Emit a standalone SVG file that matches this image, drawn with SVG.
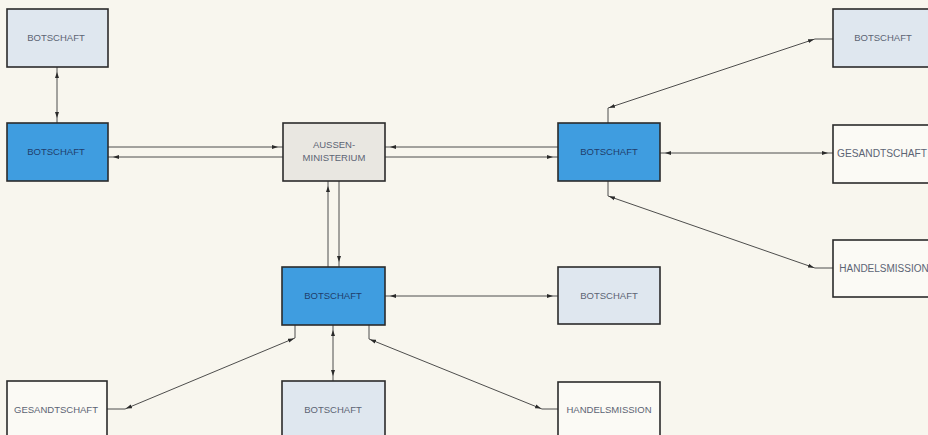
<svg xmlns="http://www.w3.org/2000/svg" width="928" height="435" viewBox="0 0 928 435">
<defs>
<marker id="a" markerUnits="userSpaceOnUse" markerWidth="14" markerHeight="6" refX="11" refY="2.5" orient="auto-start-reverse" viewBox="0 0 14 5"><path d="M0,0.5 L6,2.5 L0,4.5 z" fill="#2a2a2a"/></marker>
<marker id="d" markerUnits="userSpaceOnUse" markerWidth="10" markerHeight="6" refX="7" refY="2.5" orient="auto-start-reverse" viewBox="0 0 10 5"><path d="M0,0.5 L6,2.5 L0,4.5 z" fill="#2a2a2a"/></marker>
</defs>
<style>
.bg{fill:#f8f6ee}
rect{stroke:#2b2b2b;stroke-width:1.6}
.lb{fill:#dfe7ef}
.bl{fill:#3f9de0}
.gr{fill:#e9e7e1}
.wh{fill:#fbfaf5}
text{font-family:"Liberation Sans",Arial,sans-serif;font-size:9.5px;text-anchor:middle;fill:#5c6474}
.dk{fill:#1f3d6c}
#conn line,#conn path{stroke:#3a3a3a;stroke-width:0.9;fill:none}
</style>
<rect x="0" y="0" width="928" height="435" class="bg" style="stroke:none"/>
<g id="conn">
<line x1="57" y1="67" x2="57" y2="123" marker-start="url(#a)" marker-end="url(#a)"/>
<line x1="108" y1="147" x2="283" y2="147" marker-end="url(#a)"/>
<line x1="108" y1="157" x2="283" y2="157" marker-start="url(#a)"/>
<line x1="385" y1="147" x2="558" y2="147" marker-start="url(#a)"/>
<line x1="385" y1="157" x2="558" y2="157" marker-end="url(#a)"/>
<line x1="328" y1="181" x2="328" y2="267" marker-start="url(#a)"/>
<line x1="339" y1="181" x2="339" y2="267" marker-end="url(#a)"/>
<path d="M608,123 V108"/>
<line x1="608" y1="108" x2="815" y2="39" marker-start="url(#d)" marker-end="url(#d)"/>
<path d="M815,39 H833"/>
<line x1="660" y1="153" x2="833" y2="153" marker-start="url(#a)" marker-end="url(#a)"/>
<path d="M608,181 V196"/>
<line x1="608" y1="196" x2="815" y2="268" marker-start="url(#d)" marker-end="url(#d)"/>
<path d="M815,268 H833"/>
<line x1="385" y1="296" x2="558" y2="296" marker-start="url(#a)" marker-end="url(#a)"/>
<line x1="333" y1="325" x2="333" y2="381" marker-start="url(#a)" marker-end="url(#a)"/>
<path d="M295,325 V338"/>
<line x1="295" y1="338" x2="125" y2="409" marker-start="url(#d)" marker-end="url(#d)"/>
<path d="M125,409 H107"/>
<path d="M369,325 V339"/>
<line x1="369" y1="339" x2="542" y2="409" marker-start="url(#d)" marker-end="url(#d)"/>
<path d="M542,409 H558"/>
</g>
<g id="n1"><rect x="7" y="9" width="101" height="58" class="lb"/><text x="56" y="41">BOTSCHAFT</text></g>
<g id="n2"><rect x="7" y="123" width="101" height="58" class="bl"/><text x="56" y="155" class="dk">BOTSCHAFT</text></g>
<g id="n3"><rect x="283" y="123" width="102" height="58" class="gr"/><text x="334" y="148">AUSSEN-</text><text x="334" y="161">MINISTERIUM</text></g>
<g id="n4"><rect x="558" y="123" width="102" height="58" class="bl"/><text x="609" y="155" class="dk">BOTSCHAFT</text></g>
<g id="n5"><rect x="833" y="9" width="100" height="58" class="lb"/><text x="883" y="41">BOTSCHAFT</text></g>
<g id="n6"><rect x="833" y="125" width="100" height="58" class="wh"/><text x="882" y="157" style="font-size:10.2px">GESANDTSCHAFT</text></g>
<g id="n7"><rect x="833" y="240" width="100" height="57" class="wh"/><text x="884" y="272" style="font-size:10px">HANDELSMISSION</text></g>
<g id="n8"><rect x="282" y="267" width="103" height="58" class="bl"/><text x="333" y="299" class="dk">BOTSCHAFT</text></g>
<g id="n9"><rect x="558" y="267" width="102" height="57" class="lb"/><text x="609" y="299">BOTSCHAFT</text></g>
<g id="n10"><rect x="7" y="381" width="100" height="60" class="wh"/><text x="56" y="413">GESANDTSCHAFT</text></g>
<g id="n11"><rect x="282" y="381" width="103" height="60" class="lb"/><text x="333" y="413">BOTSCHAFT</text></g>
<g id="n12"><rect x="558" y="382" width="102" height="60" class="wh"/><text x="609" y="413">HANDELSMISSION</text></g>
</svg>
